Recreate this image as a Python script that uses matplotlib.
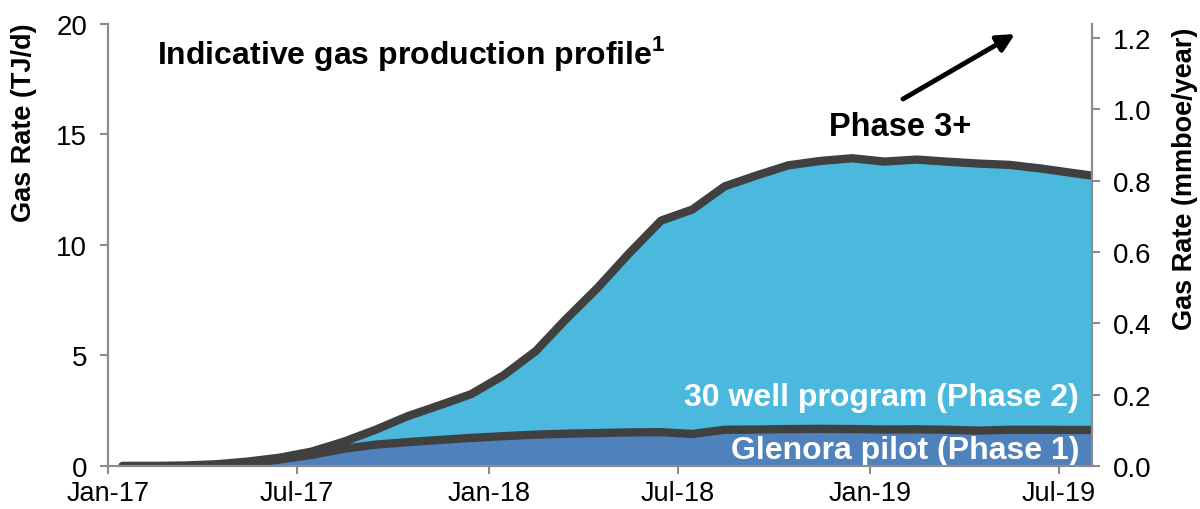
import numpy as np
import pandas as pd
import matplotlib
matplotlib.use('Agg')
import matplotlib.pyplot as plt
import matplotlib.dates as mdates

plt.rcParams['font.family'] = ['Liberation Sans', 'DejaVu Sans']
plt.rcParams['mathtext.fontset'] = 'custom'
plt.rcParams['mathtext.bf'] = 'Liberation Sans:bold'

# monthly data points (mid-month), Jan-17 .. Aug-19
dates = pd.date_range('2017-01-01', periods=32, freq='MS') + pd.Timedelta(days=14)

# TJ/d
phase1 = [0, 0, 0, 0, 0.10, 0.30, 0.50, 0.78, 0.97, 1.08, 1.18, 1.27, 1.35, 1.42, 1.46, 1.49,
          1.52, 1.53, 1.45, 1.64, 1.65, 1.67, 1.68, 1.67, 1.65, 1.66, 1.64, 1.60, 1.64, 1.64, 1.63, 1.63]
phase2 = [0, 0, 0.02, 0.08, 0.10, 0.08, 0.15, 0.32, 0.68, 1.17, 1.57, 1.98, 2.75, 3.78, 5.14, 6.56,
          8.08, 9.57, 10.15, 11.01, 11.50, 11.93, 12.12, 12.25, 12.12, 12.20, 12.13, 12.08, 11.98, 11.81, 11.62, 11.42]

left_ticks = [0, 5, 10, 15, 20]
right_ticks = [0.0, 0.2, 0.4, 0.6, 0.8, 1.0, 1.2]
mmboe_per_tj = 0.062   # right axis scale relative to left

c_p1 = '#4F81BD'
c_p2 = '#4BB9DD'
c_line = '#404040'
c_axis = '#8C8C8C'

total = np.array(phase1) + np.array(phase2)

fig = plt.figure(figsize=(12, 5.1), dpi=100)
ax = fig.add_axes([0.09, 0.0843, 0.82, 0.867])

ax.stackplot(dates, phase1, phase2, colors=[c_p1, c_p2], linewidth=0)
ax.plot(dates, phase1, color=c_line, lw=6, solid_capstyle='round', zorder=3)
ax.plot(dates, total, color=c_line, lw=6, solid_capstyle='round', zorder=4)

ax.set_xlim(pd.Timestamp('2017-01-01'), pd.Timestamp('2019-08-02'))
ax.set_ylim(0, 20)
ax.set_yticks(left_ticks)
ax.xaxis.set_major_locator(mdates.MonthLocator(bymonth=[1, 7]))
ax.xaxis.set_major_formatter(mdates.DateFormatter('%b-%y'))

ax2 = ax.twinx()
ax2.set_ylim(0, 20 * mmboe_per_tj)
ax2.set_yticks(right_ticks)
ax2.set_yticklabels(['%.1f' % t for t in right_ticks])

for a in (ax, ax2):
    a.spines['top'].set_visible(False)
    for s in ('left', 'right', 'bottom'):
        a.spines[s].set_color(c_axis)
        a.spines[s].set_linewidth(1.5)
        a.spines[s].set_zorder(5)
    a.tick_params(colors=c_axis, labelcolor='black', labelsize=20, width=1.5, length=6)
ax.tick_params(axis='y', pad=9)
ax.tick_params(axis='x', pad=4, labelsize=19.5)
ax2.tick_params(axis='y', pad=9)

fig.text(24 / 1200, 1 - 123 / 510, 'Gas Rate (TJ/d)', rotation=90, ha='center', va='center',
         fontsize=19.5, fontweight='bold')
fig.text(1185 / 1200, 1 - 179 / 510, 'Gas Rate (mmboe/year)', rotation=90, ha='center', va='center',
         fontsize=19.5, fontweight='bold')

ax.text(0.05, 0.935, r'Indicative gas production profile$^\mathbf{1}$', transform=ax.transAxes,
        fontsize=23, fontweight='bold', ha='left', va='center')
ax.text(0.987, 0.155, '30 well program (Phase 2)', transform=ax.transAxes, color='white',
        fontsize=23, fontweight='bold', ha='right', va='center', zorder=6)
ax.text(0.987, 0.036, 'Glenora pilot (Phase 1)', transform=ax.transAxes, color='white',
        fontsize=23, fontweight='bold', ha='right', va='center', zorder=6)

fig.text(900 / 1200, 1 - 128 / 510, 'Phase 3+', fontsize=23.5, fontweight='bold', ha='center', va='center')
ax.annotate('', xy=(1015 / 1200, 1 - 35 / 510), xycoords='figure fraction',
            xytext=(903 / 1200, 1 - 100 / 510), textcoords='figure fraction',
            arrowprops=dict(arrowstyle='-|>', lw=3.5, color='black', mutation_scale=26,
                            shrinkA=0, shrinkB=0))

fig.savefig('out.png', dpi=100)
